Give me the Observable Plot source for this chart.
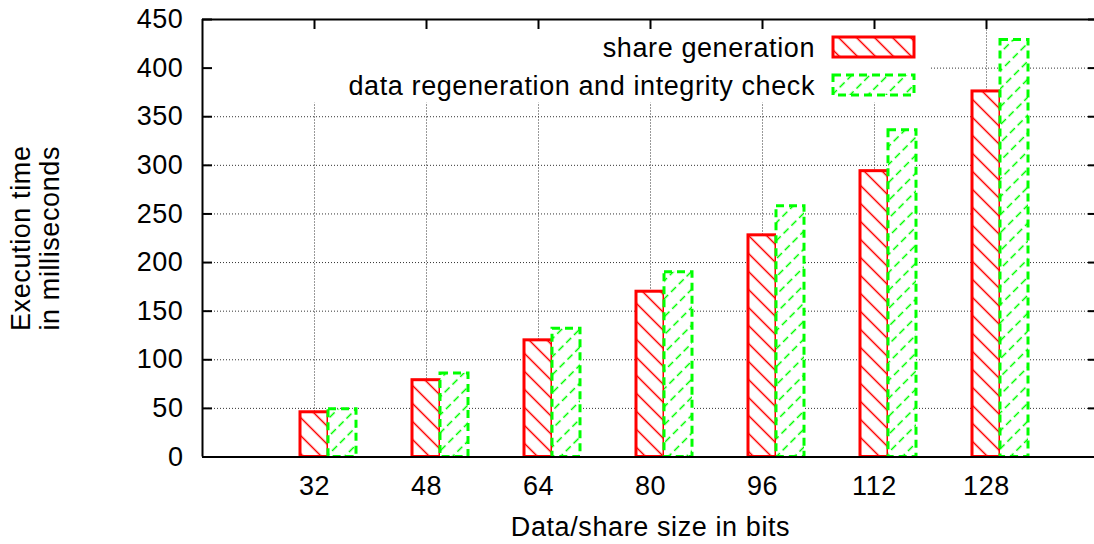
<!DOCTYPE html>
<html>
<head>
<meta charset="utf-8">
<script src="https://cdn.jsdelivr.net/npm/d3@7"></script>
<script src="https://cdn.jsdelivr.net/npm/@observablehq/plot@0.6"></script>
<style>
  html, body { margin: 0; padding: 0; background: #fff; overflow: hidden; }
  #chart svg { display: block; }
</style>
</head>
<body>
<div id="chart"></div>
<script>
// ---- data ----
const sizes = ["32", "48", "64", "80", "96", "112", "128"];
const shareGeneration = [46, 79, 120, 170, 228, 294, 376];
const regenerationCheck = [49, 86, 132, 190, 258, 336, 429];
const yTicks = [0, 50, 100, 150, 200, 250, 300, 350, 400, 450];
const seriesNames = ["share generation", "data regeneration and integrity check"];
const xTitle = "Data/share size in bits";
const yTitle = "Execution time\nin milliseconds";

// ---- layout / style ----
const W = 1094, H = 544;
const ML = 202, MR = -4, MT = 19, MB = 87.5;
const frameW = W - MR - ML, frameH = H - MB - MT;
const barW = 0.25;
const red = "#ff0000", green = "#00ff00";
const font = "'Liberation Sans', Arial, Helvetica, sans-serif";
const fs = 27;
const keyMask = {x1: -1, x2: 5.5, y1: 364, y2: 450};

const idx = d3.range(sizes.length);
const gridStyle = {stroke: "#333", strokeWidth: 1, strokeDasharray: "1,2"};

const plot = Plot.plot({
  width: W, height: H,
  marginLeft: ML, marginRight: MR, marginTop: MT, marginBottom: MB,
  style: {fontFamily: font, fontSize: fs + "px", color: "#000", background: "#fff", letterSpacing: "0.6px"},
  x: {type: "linear", domain: [-1, 7], range: [ML, W - MR], label: null},
  y: {domain: [0, 450], range: [H - MB, MT], label: null},
  marks: [
    // grid
    Plot.ruleY(yTicks.filter(t => t > 0 && t < 450), {x1: -1, x2: 7, ...gridStyle}),
    Plot.ruleX(idx, {y1: 0, y2: 450, ...gridStyle}),
    // opaque key area
    Plot.rect([keyMask], {x1: "x1", x2: "x2", y1: "y1", y2: "y2", fill: "#fff"}),
    // bars
    Plot.rectY(idx, {
      x1: i => i - barW / 2, x2: i => i + barW / 2, y1: 0, y2: i => shareGeneration[i],
      fill: "url(#hatchRed)", stroke: red, strokeWidth: 3
    }),
    Plot.rectY(idx, {
      x1: i => i + barW / 2, x2: i => i + 1.5 * barW, y1: 0, y2: i => regenerationCheck[i],
      fill: "url(#hatchGreen)", stroke: green, strokeWidth: 3, strokeDasharray: "8,5"
    }),
    // frame
    Plot.ruleY([0, 450], {x1: -1, x2: 7, stroke: "#000", strokeWidth: 2}),
    Plot.ruleX([-1, 7], {y1: 0, y2: 450, stroke: "#000", strokeWidth: 2}),
    // inward ticks
    Plot.tickY(yTicks, {y: d => d, insetRight: frameW - 10, stroke: "#000", strokeWidth: 2}),
    Plot.tickY(yTicks, {y: d => d, insetLeft: frameW - 10, stroke: "#000", strokeWidth: 2}),
    Plot.tickX(idx, {x: d => d, insetBottom: frameH - 10, stroke: "#000", strokeWidth: 2}),
    // axes labels
    Plot.axisY(yTicks, {tickSize: 0, tickPadding: 19, label: null}),
    Plot.axisX(idx, {tickSize: 0, tickPadding: 19, tickFormat: i => sizes[i], label: null}),
    // titles
    Plot.text([xTitle], {frameAnchor: "bottom", dy: 70.5, lineAnchor: "middle", textAnchor: "middle", fill: "#000"}),
    Plot.text([yTitle], {frameAnchor: "left", dx: -167, rotate: -90, lineHeight: 1.04, textAnchor: "middle", lineAnchor: "middle", fill: "#000"})
  ]
});

// ---- patterns & key ----
const svg = d3.select(plot);
const defs = svg.insert("defs", ":first-child");
const p = 18 / Math.SQRT2;
const pr = defs.append("pattern").attr("id", "hatchRed")
  .attr("patternUnits", "userSpaceOnUse").attr("width", p).attr("height", p)
  .attr("patternTransform", "rotate(-45)");
pr.append("rect").attr("width", p).attr("height", p).attr("fill", "#fff");
pr.append("line").attr("x1", p / 2).attr("x2", p / 2).attr("y1", -1).attr("y2", p + 1)
  .attr("stroke", red).attr("stroke-width", 1.5);
const pg = defs.append("pattern").attr("id", "hatchGreen")
  .attr("patternUnits", "userSpaceOnUse").attr("width", p).attr("height", 11)
  .attr("patternTransform", "rotate(45)");
pg.append("rect").attr("width", p).attr("height", 11).attr("fill", "#fff");
pg.append("line").attr("x1", p / 2).attr("x2", p / 2).attr("y1", 0).attr("y2", 11)
  .attr("stroke", green).attr("stroke-width", 1.5).attr("stroke-dasharray", "7,4");

const key = svg.append("g").attr("font-family", font).attr("font-size", fs).style("letter-spacing", "0.6px");
const keyItems = [
  {name: seriesNames[0], fill: "url(#hatchRed)", stroke: red, dash: null},
  {name: seriesNames[1], fill: "url(#hatchGreen)", stroke: green, dash: "8,5"}
];
keyItems.forEach((k, j) => {
  const baseY = 57 + j * 38;
  key.append("text").attr("x", 815).attr("y", baseY).attr("text-anchor", "end")
    .attr("fill", "#000").text(k.name);
  key.append("rect").attr("x", 833).attr("y", baseY - 20).attr("width", 81).attr("height", 20)
    .attr("fill", k.fill).attr("stroke", k.stroke).attr("stroke-width", 3)
    .attr("stroke-dasharray", k.dash);
});

document.getElementById("chart").appendChild(plot);
</script>
</body>
</html>
